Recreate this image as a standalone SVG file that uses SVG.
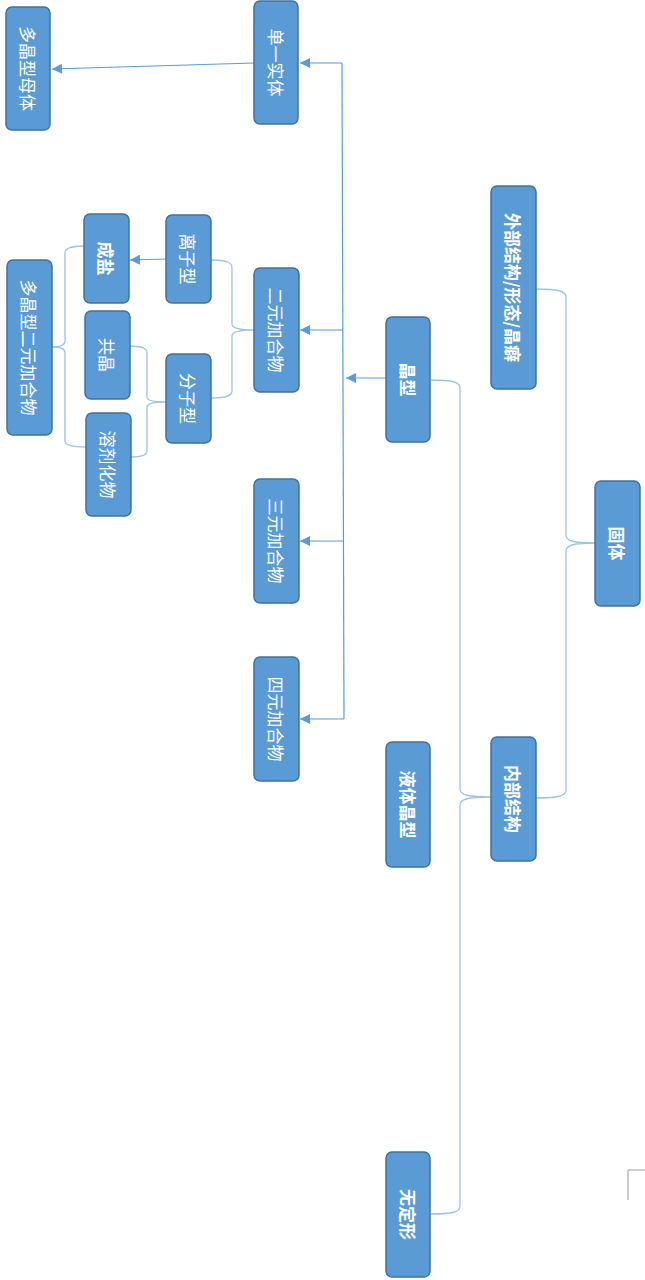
<svg xmlns="http://www.w3.org/2000/svg" width="645" height="1280" viewBox="0 0 645 1280">
<style>
.box{fill:#5B9BD5;stroke:#41719C;stroke-width:1.5}
.t{fill:#fff;font-family:"Noto Sans CJK SC","Liberation Sans",sans-serif;font-size:17px;text-anchor:middle;dominant-baseline:central}
.b{font-weight:bold}
.br{fill:none;stroke:#9DC3E6;stroke-width:1.3}
.ar{fill:none;stroke:#5B9BD5;stroke-width:1.2}
</style>
<defs>
<marker id="ah" viewBox="0 0 10 10" refX="10" refY="5" markerWidth="12" markerHeight="10" markerUnits="userSpaceOnUse" orient="auto">
<path d="M0,0 L10,5 L0,10 z" fill="#5B9BD5"/>
</marker>
</defs>
<g id="connectors">
<path class="br" d="M536,289 C558,289 566,291 566,297 L566,535 C566,541 574,543 595,543 C574,543 566,545 566,551 L566,790 C566,796 558,798 536,798"/>
<path class="br" d="M431,380 C453,380 460,382 460,388 L460,789 C460,795 468,797 491,797 C468,797 460,799 460,805 L460,1206 C460,1212 453,1214 431,1214"/>
<path class="br" d="M211,260 C226,260 232,262 232,268 L232,324 C232,328 238,330 254,330 C238,330 232,332 232,336 L232,391 C232,396 226,398 211,398"/>
<path class="br" d="M130,346 C142,346 147,348 147,353 L147,397 C147,400 152,402 166,402 C152,402 147,404 147,407 L147,451 C147,455 142,457 131,457"/>
<path class="br" d="M84,246 C71,246 65,248 65,253 L65,341 C65,345 60,347 52,347 C60,347 65,349 65,353 L65,441 C65,445 71,447 86,447"/>
<path class="ar" d="M342,63 L344,719"/>
<path class="ar" d="M386,378 L346,378" marker-end="url(#ah)"/>
<path class="ar" d="M342,63 L300,63" marker-end="url(#ah)"/>
<path class="ar" d="M343,330 L300,330" marker-end="url(#ah)"/>
<path class="ar" d="M344,541 L300,541" marker-end="url(#ah)"/>
<path class="ar" d="M344,719 L300,719" marker-end="url(#ah)"/>
<path class="ar" d="M254,63 L52,69" marker-end="url(#ah)"/>
<path class="ar" d="M166,259 L130,260" marker-end="url(#ah)"/>
</g>
<g id="n-solid"><rect class="box" x="595" y="481" width="45" height="125" rx="6"/><text class="t b" transform="translate(617.5,543.5) rotate(90)">固体</text></g>
<g id="n-external"><rect class="box" x="491" y="186" width="45" height="203" rx="6"/><text class="t b" transform="translate(513.5,287.5) rotate(90)">外部结构/形态/晶癖</text></g>
<g id="n-internal"><rect class="box" x="491" y="737" width="45" height="124" rx="6"/><text class="t b" transform="translate(513.5,799) rotate(90)">内部结构</text></g>
<g id="n-crystal"><rect class="box" x="386" y="317" width="44" height="125" rx="6"/><text class="t b" transform="translate(408,379.5) rotate(90)">晶型</text></g>
<g id="n-liquid"><rect class="box" x="386" y="742" width="44" height="125" rx="6"/><text class="t b" transform="translate(408,804.5) rotate(90)">液体晶型</text></g>
<g id="n-amorph"><rect class="box" x="386" y="1152" width="44" height="125" rx="6"/><text class="t b" transform="translate(408,1214.5) rotate(90)">无定形</text></g>
<g id="n-single"><rect class="box" x="254" y="1" width="44" height="123" rx="6"/><text class="t" transform="translate(276,62.5) rotate(90)">单一实体</text></g>
<g id="n-binary"><rect class="box" x="254" y="268" width="45" height="124" rx="6"/><text class="t" transform="translate(276.5,330) rotate(90)">二元加合物</text></g>
<g id="n-ternary"><rect class="box" x="254" y="479" width="45" height="124" rx="6"/><text class="t" transform="translate(276.5,541) rotate(90)">三元加合物</text></g>
<g id="n-quaternary"><rect class="box" x="254" y="657" width="45" height="124" rx="6"/><text class="t" transform="translate(276.5,719) rotate(90)">四元加合物</text></g>
<g id="n-ionic"><rect class="box" x="166" y="215" width="45" height="88" rx="6"/><text class="t" transform="translate(188.5,259) rotate(90)">离子型</text></g>
<g id="n-molecular"><rect class="box" x="166" y="354" width="45" height="89" rx="6"/><text class="t" transform="translate(188.5,398.5) rotate(90)">分子型</text></g>
<g id="n-salt"><rect class="box" x="84" y="214" width="45" height="89" rx="6"/><text class="t b" transform="translate(106.5,258.5) rotate(90)">成盐</text></g>
<g id="n-cocrystal"><rect class="box" x="85" y="311" width="45" height="88" rx="6"/><text class="t" transform="translate(107.5,355) rotate(90)">共晶</text></g>
<g id="n-solvate"><rect class="box" x="86" y="413" width="45" height="103" rx="6"/><text class="t" transform="translate(108.5,464.5) rotate(90)">溶剂化物</text></g>
<g id="n-polybinary"><rect class="box" x="7" y="260" width="45" height="175" rx="6"/><text class="t" transform="translate(29.5,347.5) rotate(90)">多晶型二元加合物</text></g>
<g id="n-polyparent"><rect class="box" x="6" y="7" width="44" height="123" rx="6"/><text class="t" transform="translate(28,68.5) rotate(90)">多晶型母体</text></g>
<path d="M628,1200 L628,1170 L645,1170" fill="none" stroke="#999" stroke-width="1"/>
</svg>
